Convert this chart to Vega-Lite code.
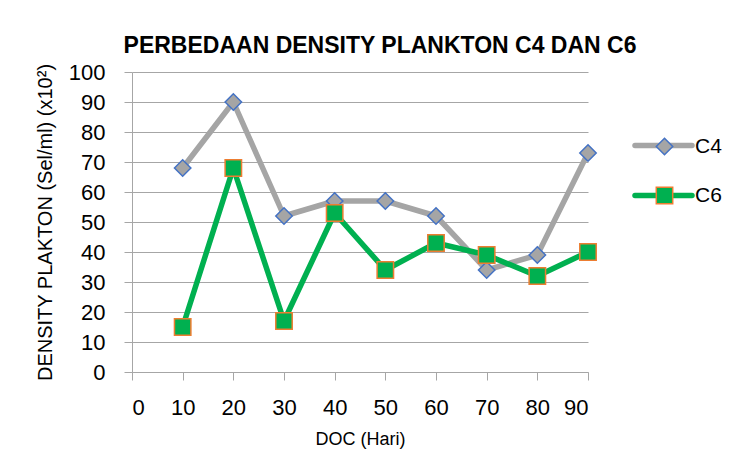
{
  "$schema": "https://vega.github.io/schema/vega-lite/v6.json",
  "width": 456,
  "height": 300,
  "autosize": {"type": "none"},
  "padding": {"left": 132, "top": 72, "right": 156, "bottom": 85},
  "background": "white",
  "config": {"view": {"stroke": null}, "font": "Liberation Sans"},
  "title": {
    "text": "PERBEDAAN DENSITY PLANKTON C4 DAN C6",
    "font": "Liberation Sans",
    "fontSize": 23,
    "fontWeight": "bold",
    "color": "black",
    "anchor": "middle",
    "dx": 20,
    "offset": 3
  },
  "data": {
    "values": [
      {"doc": 10, "value": 68, "series": "C4"},
      {"doc": 20, "value": 90, "series": "C4"},
      {"doc": 30, "value": 52, "series": "C4"},
      {"doc": 40, "value": 57, "series": "C4"},
      {"doc": 50, "value": 57, "series": "C4"},
      {"doc": 60, "value": 52, "series": "C4"},
      {"doc": 70, "value": 34, "series": "C4"},
      {"doc": 80, "value": 39, "series": "C4"},
      {"doc": 90, "value": 73, "series": "C4"},
      {"doc": 10, "value": 15, "series": "C6"},
      {"doc": 20, "value": 68, "series": "C6"},
      {"doc": 30, "value": 17, "series": "C6"},
      {"doc": 40, "value": 53, "series": "C6"},
      {"doc": 50, "value": 34, "series": "C6"},
      {"doc": 60, "value": 43, "series": "C6"},
      {"doc": 70, "value": 39, "series": "C6"},
      {"doc": 80, "value": 32, "series": "C6"},
      {"doc": 90, "value": 40, "series": "C6"}
    ]
  },
  "encoding": {
    "x": {
      "field": "doc",
      "type": "quantitative",
      "scale": {"domain": [0, 90], "nice": false},
      "axis": {
        "values": [0, 10, 20, 30, 40, 50, 60, 70, 80, 90],
        "title": "DOC (Hari)",
        "grid": false,
        "tickSize": 8,
        "tickColor": "#A6A6A6",
        "domainColor": "#A6A6A6",
        "labelFont": "Liberation Sans",
        "labelFontSize": 22,
        "labelColor": "black",
        "labelPadding": 17,
        "titleFont": "Liberation Sans",
        "titleFontSize": 18,
        "titleFontWeight": "normal",
        "titleColor": "black",
        "titleY": 67,
        "titleBaseline": "middle"
      }
    },
    "y": {
      "field": "value",
      "type": "quantitative",
      "scale": {"domain": [0, 100], "nice": false},
      "axis": {
        "values": [0, 10, 20, 30, 40, 50, 60, 70, 80, 90, 100],
        "title": "DENSITY PLAKTON (Sel/ml) (x10²)",
        "grid": true,
        "gridColor": "#A6A6A6",
        "tickSize": 8,
        "tickColor": "#A6A6A6",
        "domainColor": "#A6A6A6",
        "labelFont": "Liberation Sans",
        "labelFontSize": 22,
        "labelColor": "black",
        "labelPadding": 19,
        "titleFont": "Liberation Sans",
        "titleFontSize": 20,
        "titleFontWeight": "normal",
        "titleColor": "black",
        "titleX": -87,
        "titleBaseline": "middle"
      }
    }
  },
  "layer": [
    {
      "mark": {"type": "line", "strokeWidth": 5.5, "strokeCap": "round", "strokeJoin": "round"},
      "encoding": {
        "color": {
          "field": "series",
          "type": "nominal",
          "scale": {"domain": ["C4", "C6"], "range": ["#A5A5A5", "#00B050"]},
          "legend": {
            "orient": "none",
            "legendX": 519,
            "legendY": 61,
            "title": null,
            "padding": 0,
            "symbolType": "M-3,0L3,0",
            "symbolSize": 361,
            "symbolStrokeWidth": 5.5,
            "labelExpr": "''",
            "labelFontSize": 18,
            "rowPadding": 26,
            "encode": {"symbols": {"update": {"strokeCap": {"value": "round"}}}}
          }
        }
      }
    },
    {
      "mark": {"type": "point", "size": 270, "strokeWidth": 1.5, "opacity": 1},
      "encoding": {
        "shape": {
          "field": "series",
          "type": "nominal",
          "scale": {"range": ["diamond", "square"]},
          "legend": {
            "orient": "none",
            "legendX": 522,
            "legendY": 64,
            "title": null,
            "padding": 0,
            "symbolSize": 270,
            "symbolStrokeWidth": 1.5,
            "labelFont": "Liberation Sans",
            "labelFontSize": 21,
            "labelColor": "black",
            "labelOffset": 20,
            "rowPadding": 26
          }
        },
        "fill": {
          "field": "series",
          "type": "nominal",
          "scale": {"range": ["#A5A5A5", "#00B050"]}
        },
        "stroke": {
          "field": "series",
          "type": "nominal",
          "scale": {"range": ["#4472C4", "#ED7D31"]}
        }
      }
    }
  ]
}
